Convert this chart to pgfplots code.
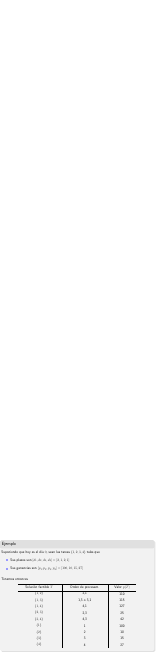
\documentclass[border=0pt]{standalone}
\usepackage{pgfplots}
\pgfplotsset{compat=1.18}
\begin{document}
\begin{tikzpicture}[x=1pt,y=-1pt]
\begin{axis}[at={(0,475)},anchor=south west,width=652pt,height=475pt,scale only axis,hide axis,xmin=0,xmax=1,ymin=0,ymax=1]
\end{axis}
\fill[black!12,rounded corners=6pt] (4,4) rectangle (649,467);
\fill[black!5,rounded corners=6pt] (0,0) rectangle (645,462);
\fill[black!12,rounded corners=6pt] (0,0) rectangle (645,34);
\fill[black!12] (0,20) rectangle (645,34);
\sffamily
\node[anchor=west,font=\fontsize{19}{22}\selectfont] at (4,18) {Ejemplo};
\begin{scope}[every node/.style={font=\fontsize{15.5}{18}\selectfont}]
\node[anchor=west] at (2,50) {Suponiendo que hoy es el día $0$, sean las tareas $\{1,2,3,4\}$ tales que};
\fill[blue!40!white] (26,80) rectangle (34,88);
\node[anchor=west] at (40,84) {Sus plazos son $[d_1,d_2,d_3,d_4]=[2,1,2,1]$};
\fill[blue!40!white] (26,115) rectangle (34,123);
\node[anchor=west] at (40,119) {Sus ganancias son $[p_1,p_2,p_3,p_4]=[100,10,15,27]$};
\node[anchor=west] at (2,163) {Tenemos entonces};
\draw (75,183) -- (570,183);
\draw[line width=0.5pt] (75,211) -- (570,211);
\draw (258,183) -- (258,452);
\draw (450,183) -- (450,452);
\node at (163,197) {Solución factible $T$};
\node at (354,197) {Orden de procesam.};
\node at (510,197) {Valor $p(T)$};
\foreach \a/\b/\c [count=\i from 0] in {{\{1,2\}}/{2,1}/110,{\{1,3\}}/{1,3 o 3,1}/115,{\{1,4\}}/{4,1}/127,{\{2,3\}}/{2,3}/25,{\{3,4\}}/{4,3}/42,{\{1\}}/1/100,{\{2\}}/2/10,{\{3\}}/3/15,{\{4\}}/4/27}{
  \node at (163,224+26.75*\i) {$\a$};
  \node at (354,224+26.75*\i) {\b};
  \node at (510,224+26.75*\i) {\c};
}
\end{scope}
\end{tikzpicture}
\end{document}
